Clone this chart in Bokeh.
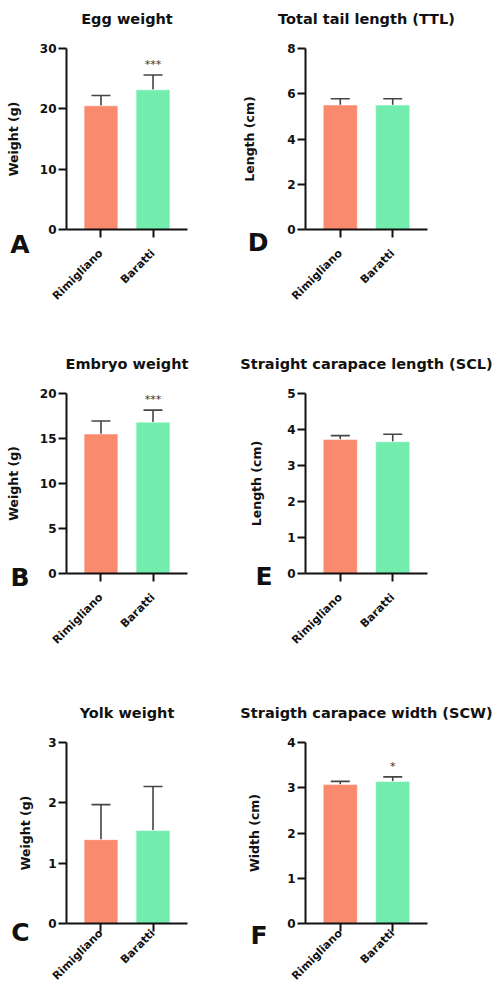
import math
from bokeh.plotting import figure
from bokeh.layouts import gridplot
from bokeh.models import (ColumnDataSource, FactorRange, Range1d, FixedTicker, Whisker, TeeHead,
                          LinearAxis)
from bokeh.core.properties import value
from bokeh.embed import file_html
from bokeh.resources import INLINE

# ---- data ----
groups = ["Rimigliano", "Baratti"]
bar_colors = ["#F98A6E", "#72EDAE"]

egg_weight = [20.5, 23.15]
egg_weight_sd = [1.7, 2.45]
embryo_weight = [15.5, 16.8]
embryo_weight_sd = [1.45, 1.35]
yolk_weight = [1.39, 1.54]
yolk_weight_sd = [0.58, 0.73]
ttl = [5.5, 5.5]
ttl_sd = [0.28, 0.28]
scl = [3.72, 3.66]
scl_sd = [0.11, 0.21]
scw = [3.07, 3.14]
scw_sd = [0.07, 0.1]

egg_sig = ["", "***"]
embryo_sig = ["", "***"]
yolk_sig = ["", ""]
ttl_sig = ["", ""]
scl_sig = ["", ""]
scw_sig = ["", "*"]

FONT = "DejaVu Sans"
FONT_VAL = value(FONT)
INK = "#111111"


def panel(title, letter, ylabel, vals, sds, sig, ymax, ystep, col, row,
          letter_standoff, label_standoff, letter_lh):
    left = 66 if col == 0 else 67
    fw = 121 if col == 0 else 122
    width = 238 if col == 0 else 256
    height = [334, 349, 309][row]
    top = [48, 59, 59][row]
    fh = [181, 180, 181][row]
    p = figure(
        width=width, height=height,
        title=None if row == 0 else title,
        x_range=FactorRange(*groups, range_padding=0.163, range_padding_units="absolute"),
        y_range=Range1d(0, ymax),
        output_backend="svg", toolbar_location=None,
        min_border_left=left, min_border_right=width - left - fw,
        min_border_top=top, min_border_bottom=height - top - fh,
    )

    # bottom category axis (styled before any other x axis is added)
    xa = p.below[0]
    xa.major_label_orientation = math.pi / 4
    xa.major_label_text_font = FONT
    xa.major_label_text_font_size = "11px"
    xa.major_label_text_font_style = "bold"
    xa.major_label_text_color = INK
    xa.major_label_standoff = 0 if row == 2 else 14
    xa.major_tick_out = 8
    xa.major_tick_in = 0
    xa.major_tick_line_width = 2
    xa.axis_line_width = 2
    xa.axis_line_color = INK
    xa.major_tick_line_color = INK

    if row == 0:
        # title carried by an empty top axis (no ticks) so it can sit higher above the frame
        ta = LinearAxis(ticker=FixedTicker(ticks=[]), axis_label=title, axis_label_text_font=FONT,
                        axis_label_text_font_size="14.5px", axis_label_text_font_style="bold",
                        axis_label_text_color=INK, axis_label_standoff=22,
                        major_label_standoff=0, major_tick_out=0, major_tick_in=0,
                        major_tick_line_color=None, minor_tick_line_color=None,
                        axis_line_color=None)
        p.add_layout(ta, "above")
    else:
        p.title.align = "center"
        p.title.vertical_align = "middle"
        p.title.text_font = FONT
        p.title.text_font_size = "14.5px"
        p.title.text_font_style = "bold"
        p.title.text_color = INK
        p.title.standoff = 41

    src = ColumnDataSource(dict(
        g=groups, v=vals, up=[a + b for a, b in zip(vals, sds)],
        c=bar_colors, s=sig,
    ))
    p.vbar(x="g", top="v", width=0.65, fill_color="c", line_color="white",
           line_alpha=0.5, line_width=1, source=src)
    w = Whisker(base="g", upper="up", lower="v", source=src,
                line_color="#454545", line_width=1.6,
                upper_head=TeeHead(size=19, line_color="#454545", line_width=1.6),
                lower_head=None)
    p.add_layout(w)
    p.text(x="g", y="up", text="s", source=src, text_align="center",
           text_baseline="bottom", y_offset=-4, text_font_size="11px",
           text_color="#333333", text_font=FONT_VAL)

    p.xgrid.visible = False
    p.ygrid.visible = False
    p.outline_line_color = None

    ya = p.left[0]
    ya.ticker = FixedTicker(ticks=[i * ystep for i in range(int(round(ymax / ystep)) + 1)])
    ya.major_label_text_font = FONT
    ya.major_label_text_font_size = "12px"
    ya.major_label_text_font_style = "bold"
    ya.major_label_text_color = INK
    ya.major_label_standoff = 2
    ya.minor_tick_line_color = None
    ya.major_tick_out = 8
    ya.major_tick_in = 0
    ya.major_tick_line_width = 2
    ya.axis_line_width = 2
    ya.axis_line_color = INK
    ya.major_tick_line_color = INK

    # outer left axis: carries the panel letter (under the 0 tick) and the axis title
    la = LinearAxis(ticker=FixedTicker(ticks=[0]),
                    major_label_overrides={0: "\n" + letter},
                    major_label_text_font=FONT, major_label_text_font_size="25px",
                    major_label_text_font_style="bold", major_label_text_color=INK,
                    major_label_text_line_height=letter_lh,
                    major_label_standoff=letter_standoff,
                    major_tick_out=0, major_tick_in=0,
                    major_tick_line_color=None, minor_tick_line_color=None,
                    axis_line_color=None,
                    axis_label=ylabel, axis_label_text_font=FONT,
                    axis_label_text_font_size="12.5px", axis_label_text_font_style="bold",
                    axis_label_text_color=INK, axis_label_standoff=label_standoff)
    p.add_layout(la, "left")
    return p


pA = panel("Egg weight", "A", "Weight (g)", egg_weight, egg_weight_sd, egg_sig, 30, 10, 0, 0, 7, -14, 1.0)
pB = panel("Embryo weight", "B", "Weight (g)", embryo_weight, embryo_weight_sd, embryo_sig, 20, 5, 0, 1, 7, -14, 0.31)
pC = panel("Yolk weight", "C", "Weight (g)", yolk_weight, yolk_weight_sd, yolk_sig, 3, 1, 0, 2, 16, -25, 0.65)
pD = panel("Total tail length (TTL)", "D", "Length (cm)", ttl, ttl_sd, ttl_sig, 8, 2, 1, 0, 16, -12, 0.9)
pE = panel("Straight carapace length (SCL)", "E", "Length (cm)", scl, scl_sd, scl_sig, 5, 1, 1, 1, 12, -12, 0.24)
pF = panel("Straigth carapace width (SCW)", "F", "Width (cm)", scw, scw_sd, scw_sig, 4, 1, 1, 2, 17, -15, 0.83)

grid = gridplot([[pA, pD], [pB, pE], [pC, pF]], toolbar_location=None)
open("out.html", "w").write(file_html(grid, INLINE))
